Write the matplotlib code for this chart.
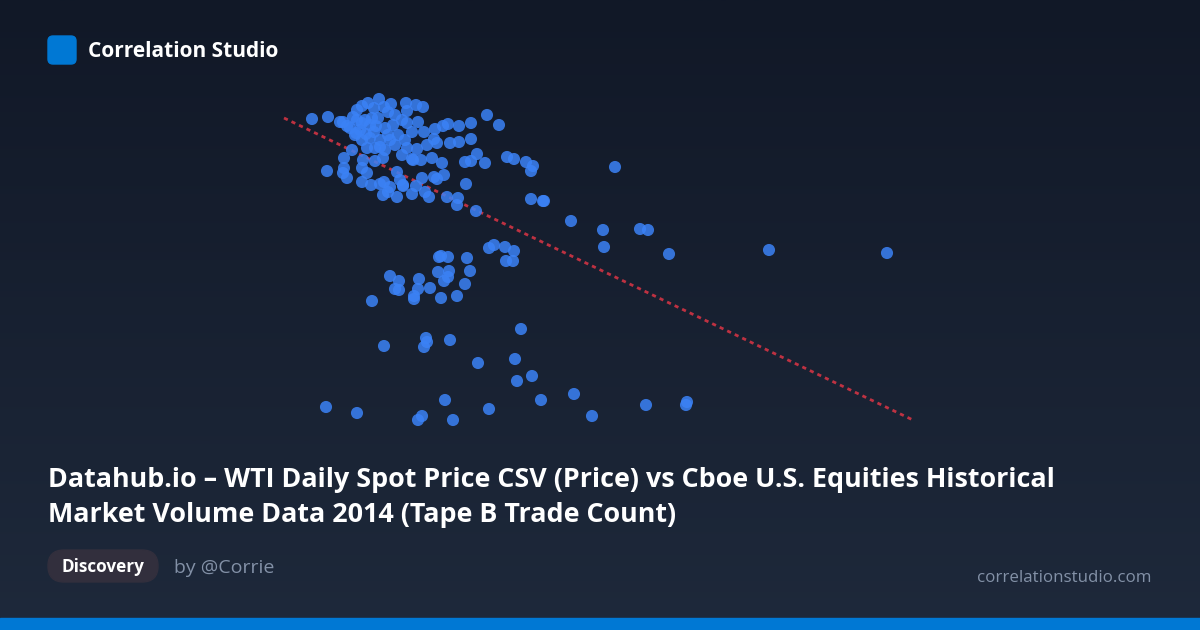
import numpy as np
import matplotlib.pyplot as plt
from matplotlib.patches import FancyBboxPatch, Rectangle

# Scatter data (pixel-like plot units, y grows downward)
cluster_x = [362, 368, 379, 391, 406, 416, 423, 374, 384, 357,
             312, 328, 343, 353, 340, 347, 357, 365, 372, 378, 388, 395, 402, 407, 418, 407,
             350, 360, 370, 385, 393, 424, 435, 443, 448, 459, 471, 487, 499, 362, 376, 356, 366,
             355, 362, 370, 380, 390, 398, 405, 412, 434, 450, 459, 471, 375, 385, 395, 352, 367,
             380, 407, 417, 437, 427, 388, 374,
             344, 383, 375, 402, 413, 412, 421, 432, 442, 465, 471, 477, 485, 507, 514, 526, 533,
             531, 344, 343, 347, 362, 367, 327, 397, 363,
             362, 371, 380, 384, 390, 400, 403, 412, 383, 397, 403, 422, 434, 437, 444, 429, 425,
             447, 458, 466, 457, 476, 531, 543, 416, 388]
cluster_y = [106, 103, 99, 104, 103, 105, 107, 108, 107, 110,
             119, 117, 122, 117, 122, 126, 120, 120, 118, 118, 112, 115, 120, 123, 122, 111,
             128, 130, 125, 128, 125, 132, 129, 126, 124, 126, 123, 115, 125, 123, 126, 133, 134,
             135, 140, 138, 140, 140, 135, 140, 132, 139, 143, 142, 139, 148, 150, 145, 150, 148,
             147, 148, 149, 143, 145, 135, 132,
             158, 158, 161, 155, 160, 159, 160, 158, 163, 162, 161, 154, 163, 157, 159, 162, 166,
             171, 168, 173, 178, 168, 173, 171, 172, 160,
             182, 185, 184, 182, 187, 180, 185, 194, 195, 197, 186, 178, 177, 179, 175, 197, 192,
             197, 198, 184, 205, 211, 199, 201, 186, 192]

outlier_x = [615, 544, 571, 603, 640, 648, 604, 669, 769, 887,
             489, 494, 505, 514, 506, 513, 439, 441, 448, 467, 438, 449, 448, 444, 470, 465, 457,
             390, 399, 395, 399, 419, 418, 414, 414, 430, 441, 372,
             426, 427, 424, 450, 384, 521, 478, 515, 517, 532,
             326, 357, 445, 422, 418, 453, 489, 541, 574, 592, 646, 686, 687]
outlier_y = [167, 201, 221, 230, 229, 230, 247, 254, 250, 253,
             248, 245, 247, 251, 261, 261, 257, 256, 257, 258, 272, 271, 277, 281, 271, 284, 296,
             276, 281, 289, 290, 279, 289, 296, 299, 288, 298, 301,
             338, 342, 347, 340, 346, 329, 363, 359, 381, 376,
             407, 413, 400, 416, 420, 420, 409, 400, 394, 416, 405, 405, 402]

trend_x = [284, 915]
trend_y = [118, 421]

W, H = 1200, 630
fig = plt.figure(figsize=(12, 6.3), dpi=100)

# background gradient
bg = fig.add_axes([0, 0, 1, 1])
grad = np.linspace(0, 1, 256).reshape(-1, 1)
top = np.array([17, 24, 39]) / 255
bot = np.array([30, 41, 59]) / 255
img = top + (bot - top) * grad[:, :, None]
bg.imshow(img, aspect='auto', extent=[0, W, H, 0])
bg.set_xlim(0, W)
bg.set_ylim(H, 0)
bg.axis('off')

# scatter plot area
ax = fig.add_axes([0, 0, 1, 1])
ax.set_xlim(0, W)
ax.set_ylim(H, 0)
ax.axis('off')
ax.patch.set_alpha(0)
xs = cluster_x + outlier_x
ys = cluster_y + outlier_y
ax.scatter(xs, ys, s=76, color='#3b82f6', alpha=0.85, edgecolors='none', zorder=3)
ax.plot(trend_x, trend_y, color='#dc3545', lw=2, linestyle=(0, (1.5, 1.5)), alpha=0.85, zorder=2)

# header
ax.add_patch(FancyBboxPatch((48, 36), 28, 28, boxstyle='round,pad=0,rounding_size=5',
                            color='#0078d4', zorder=4))
ax.text(88, 51.5, 'Correlation Studio', color='white', fontsize=15, fontweight='bold',
        family='Open Sans', va='center', ha='left')

# title
ax.text(48, 480, 'Datahub.io – WTI Daily Spot Price CSV (Price) vs Cboe U.S. Equities Historical',
        color='white', fontsize=19.35, fontweight='bold', family='Open Sans', va='center')
ax.text(48, 515, 'Market Volume Data 2014 (Tape B Trade Count)',
        color='white', fontsize=19.35, fontweight='bold', family='Open Sans', va='center')

# pill + author
ax.add_patch(FancyBboxPatch((48, 550), 110, 32, boxstyle='round,pad=0,rounding_size=16',
                            color='#322f3d', zorder=4))
ax.text(103, 567.5, 'Discovery', color='white', fontsize=12.3, fontweight='bold',
        family='Open Sans', va='center', ha='center', zorder=5)
ax.text(174, 568, 'by @Corrie', color='#8391a7', fontsize=14, family='Open Sans',
        va='center', ha='left')
ax.text(1151, 577.5, 'correlationstudio.com', color='#8391a7', fontsize=12.2, family='Open Sans',
        va='center', ha='right')

# bottom bar
ax.add_patch(Rectangle((0, 618), W, 12, color='#0078d4', zorder=4))

fig.savefig('out.png', dpi=100)
